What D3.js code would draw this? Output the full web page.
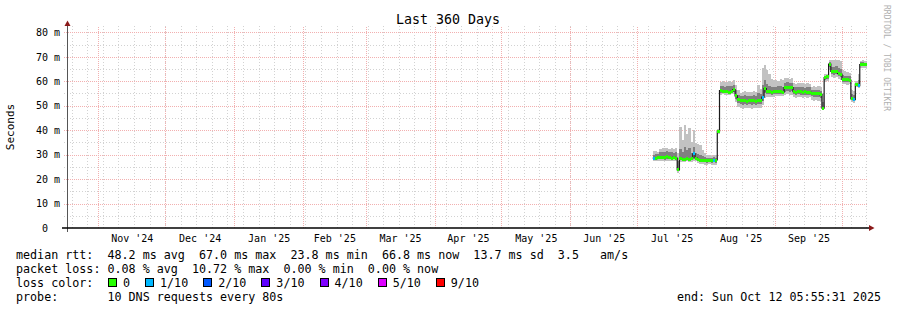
<!DOCTYPE html>
<html>
<head>
<meta charset="utf-8">
<script src="https://cdn.jsdelivr.net/npm/d3@7"></script>
<style>
  body { margin: 0; background: #fff; }
  svg text { font-family: "DejaVu Sans Mono", monospace; white-space: pre; }
</style>
</head>
<body>
<div id="chart"></div>
<script>
// graph window (360 days ending at the "end:" stamp)
var graphStart = new Date(Date.UTC(2024, 9, 17, 5, 55, 31));
var graphEnd = new Date(Date.UTC(2025, 9, 12, 5, 55, 31));
var firstSample = new Date(Date.UTC(2025, 6, 8)); // one sample per day from here

var monthLabels = ["Nov '24", "Dec '24", "Jan '25", "Feb '25", "Mar '25", "Apr '25",
  "May '25", "Jun '25", "Jul '25", "Aug '25", "Sep '25"];
var yTickValues = [0, 10, 20, 30, 40, 50, 60, 70, 80];
var yTickLabels = ["0  ", "10 m", "20 m", "30 m", "40 m", "50 m", "60 m", "70 m", "80 m"];

// daily values in ms
var medianMs = [28.6, 28.4, 28.8, 29.0, 28.7, 28.9, 29.1, 28.8, 28.5, 28.9, 28.6,
  23.8,
  28.5, 28.2, 28.0, 28.3, 28.1, 28.4, 30.3, 28.6,
  27.9, 27.8, 27.7, 27.8, 27.7, 27.6, 27.8, 27.7, 27.8,
  39.4,
  56.2, 55.9, 55.7, 55.8, 55.6, 55.9, 56.6, 54.0, 52.5,
  52.2, 52.0, 52.1, 51.9, 52.0, 52.2, 52.1, 51.9, 52.0, 52.3,
  53.5, 57.0,
  55.9, 55.7, 55.6, 55.8, 55.7, 55.9, 55.8, 55.6,
  57.4, 57.5, 57.3, 57.4,
  55.8, 55.6, 55.7, 55.9, 55.6, 55.7, 55.5, 55.6,
  55.2, 55.0, 54.8, 55.1, 54.5,
  49.0, 61.5, 61.8, 67.0,
  64.0, 63.8, 63.9, 63.1, 62.9,
  60.8, 60.6, 60.7, 60.5,
  52.8, 52.5, 58.8, 58.2,
  66.8, 67.0, 66.9, 66.8];

var smokeMax = [31.3, 31.5, 31.2, 32.5, 32.8, 32.6, 32.7, 32.4, 32.8, 32.5, 32.6,
  30.5,
  41.5, 36.0, 42.0, 38.5, 41.0, 35.0, 40.0, 34.7,
  34.5, 33.8, 32.0, 30.5, 29.8, 30.0, 29.6, 29.9, 29.7,
  40.5,
  59.8, 60.2, 59.5, 59.9, 60.1, 59.6, 60.5, 58.5, 56.5,
  55.4, 55.7, 56.2, 55.5, 55.8, 55.6, 56.0, 55.7, 58.5, 57.0,
  65.5, 66.8,
  64.5, 63.0, 61.0, 60.5, 60.5, 60.2, 60.8, 60.4,
  61.2, 61.5, 61.0, 61.3,
  59.2, 59.0, 59.4, 59.1, 59.3, 58.9, 59.2, 59.0,
  57.8, 58.0, 57.6, 57.9, 57.5,
  55.0, 62.8, 63.0, 68.5,
  68.7, 68.5, 68.8, 68.6, 68.4,
  64.5, 64.0, 63.8, 63.5,
  56.4, 56.0, 60.0, 63.0,
  68.4, 68.5, 68.3, 68.2];

var smokeHigh = [30.0, 30.2, 30.1, 31.0, 31.2, 31.0, 31.3, 30.9, 31.1, 30.8, 31.0,
  27.5,
  32.5, 31.0, 33.0, 31.8, 32.6, 30.8, 33.0, 30.5,
  30.2, 29.8, 29.5, 28.9, 28.8, 28.7, 28.8, 28.9, 28.8,
  39.9,
  58.0, 58.2, 57.8, 58.1, 58.0, 57.9, 58.6, 56.5, 54.2,
  53.9, 54.0, 54.2, 53.8, 54.1, 54.0, 54.3, 53.9, 55.0, 54.6,
  58.5, 60.5,
  59.0, 58.2, 57.8, 57.6, 57.8, 57.9, 58.0, 57.7,
  59.3, 59.5, 59.2, 59.4,
  57.6, 57.5, 57.8, 57.6, 57.7, 57.4, 57.5, 57.6,
  56.6, 56.5, 56.3, 56.6, 56.0,
  51.5, 62.2, 62.5, 67.8,
  66.0, 65.8, 66.2, 65.5, 65.0,
  62.6, 62.3, 62.2, 62.0,
  54.6, 54.2, 59.4, 60.6,
  67.7, 67.8, 67.6, 67.5];

var smokeLow = [28.0, 27.9, 28.1, 28.2, 28.1, 28.0, 28.3, 28.1, 27.9, 28.2, 28.0,
  23.2,
  27.8, 27.6, 27.5, 27.7, 27.6, 27.8, 28.8, 27.9,
  27.2, 27.0, 26.9, 26.8, 26.7, 26.8, 26.7, 26.8, 26.7,
  38.8,
  55.2, 55.0, 55.0, 55.1, 54.9, 55.1, 55.6, 52.6, 51.0,
  50.6, 50.5, 50.7, 50.4, 50.6, 50.5, 50.7, 50.4, 50.6, 50.8,
  52.0, 55.0,
  54.6, 54.6, 54.5, 54.6, 54.8, 54.8, 54.9, 54.7,
  55.8, 56.0, 55.7, 55.9,
  54.6, 54.4, 54.6, 54.5, 54.3, 54.5, 54.4, 54.5,
  53.8, 53.5, 53.5, 53.7, 53.2,
  48.8, 60.6, 61.0, 65.8,
  63.0, 62.7, 62.9, 62.1, 61.8,
  59.7, 59.8, 59.6, 59.5,
  52.2, 51.9, 58.1, 57.7,
  66.1, 66.3, 66.2, 66.1];

var smokeMin = [27.3, 27.2, 27.4, 27.3, 27.5, 27.2, 27.3, 27.4, 27.2, 27.3, 27.4,
  22.4,
  27.0, 27.1, 26.9, 27.2, 27.0, 27.1, 27.5, 27.2,
  26.5, 26.3, 26.0, 25.9, 25.8, 26.0, 25.8, 25.9, 25.8,
  38.3,
  54.4, 54.6, 54.3, 54.5, 54.4, 54.6, 54.8, 51.5, 49.5,
  48.9, 48.8, 49.1, 48.9, 49.0, 48.8, 49.1, 49.0, 48.9, 49.2,
  50.5, 53.2,
  53.5, 53.6, 53.4, 53.5, 53.9, 53.8, 54.0, 53.9,
  54.4, 54.6, 54.3, 54.5,
  53.4, 53.3, 53.5, 53.4, 53.2, 53.4, 53.3, 53.4,
  52.3, 52.0, 52.2, 52.1, 51.8,
  48.5, 59.8, 60.2, 64.5,
  61.9, 61.5, 61.8, 61.0, 60.5,
  58.8, 59.0, 58.5, 58.7,
  51.6, 51.3, 57.5, 57.2,
  65.4, 65.6, 65.5, 65.4];

// lost pings out of 10, per day
var lossTenths = [1, 0, 0, 0, 0, 0, 0, 0, 0, 0, 0,
  0,
  0, 0, 0, 0, 0, 0, 1, 0,
  0, 0, 0, 0, 0, 0, 0, 1, 0,
  0,
  0, 0, 0, 0, 0, 0, 0, 0, 0,
  0, 0, 0, 0, 0, 0, 0, 0, 0, 0,
  1, 0,
  0, 0, 0, 0, 0, 0, 0, 0,
  0, 0, 0, 0,
  0, 0, 0, 0, 0, 0, 0, 0,
  0, 0, 0, 0, 0,
  0, 0, 0, 0,
  0, 0, 0, 0, 0,
  0, 0, 0, 0,
  0, 1, 0, 1,
  0, 0, 0, 0];

var lossLabels = ["0", "1/10", "2/10", "3/10", "4/10", "5/10", "9/10"];
var lossColors = ["#26ff00", "#00b8ff", "#0059ff", "#5e00ff", "#7e00ff", "#dd00ff", "#ff0000"];

var legendRtt = "median rtt:  48.2 ms avg  67.0 ms max  23.8 ms min  66.8 ms now  13.7 ms sd  3.5   am/s";
var legendLoss = "packet loss: 0.08 % avg  10.72 % max  0.00 % min  0.00 % now";
var legendProbe = "probe:       10 DNS requests every 80s";
var legendEnd = "end: Sun Oct 12 05:55:31 2025";

var W = 897, H = 310;
var svg = d3.select('#chart').append('svg')
  .attr('width', W)
  .attr('height', H);

var x = d3.scaleUtc().domain([graphStart, graphEnd]).range([65.5, 867]);
var y = d3.scaleLinear().domain([0, 82.6]).range([228, 26]);

// samples; one extra point so the last step reaches the end of the graph
var samples = medianMs.map(function (m, i) {
  return {
    t: d3.utcDay.offset(firstSample, i), med: m, max: smokeMax[i], hi: smokeHigh[i],
    lo: smokeLow[i], min: smokeMin[i], loss: lossTenths[i]
  };
});
var last = samples[samples.length - 1];
var stepped = samples.concat([Object.assign({}, last, { t: graphEnd })]);

// grid
var grid = svg.append('g').attr('shape-rendering', 'crispEdges');
var x0 = x.range()[0] - 2, x1 = x.range()[1];

d3.range(5, 80, 10).forEach(function (v) {
  grid.append('line')
    .attr('x1', x0).attr('x2', x1)
    .attr('y1', Math.round(y(v)) + 0.5).attr('y2', Math.round(y(v)) + 0.5)
    .attr('stroke', '#d2d2d2').attr('stroke-dasharray', '1,2');
});
d3.utcSunday.range(graphStart, graphEnd).forEach(function (d) {
  grid.append('line')
    .attr('x1', Math.round(x(d)) + 0.5).attr('x2', Math.round(x(d)) + 0.5)
    .attr('y1', y.range()[0]).attr('y2', y.range()[1])
    .attr('stroke', '#d2d2d2').attr('stroke-dasharray', '1,2');
});
yTickValues.slice(1).forEach(function (v) {
  grid.append('line')
    .attr('x1', x0).attr('x2', x1)
    .attr('y1', Math.round(y(v)) + 0.5).attr('y2', Math.round(y(v)) + 0.5)
    .attr('stroke', '#f2b0b0').attr('stroke-dasharray', '1,1');
});
var months = d3.utcMonth.range(d3.utcMonth.ceil(graphStart), graphEnd);
months.forEach(function (d) {
  grid.append('line')
    .attr('x1', Math.round(x(d)) + 0.5).attr('x2', Math.round(x(d)) + 0.5)
    .attr('y1', y.range()[0]).attr('y2', y.range()[1])
    .attr('stroke', '#f2b0b0').attr('stroke-dasharray', '1,1');
});

// smoke
var band = function (lo, hi) {
  return d3.area()
    .curve(d3.curveStepAfter)
    .x(function (d) { return x(d.t); })
    .y0(function (d) { return y(d[lo]); })
    .y1(function (d) { return y(d[hi]); });
};
svg.append('path').datum(stepped)
  .attr('d', band('min', 'max'))
  .attr('fill', '#c2c2c2')
  .attr('shape-rendering', 'crispEdges');
svg.append('path').datum(stepped)
  .attr('d', band('lo', 'hi'))
  .attr('fill', '#808080')
  .attr('shape-rendering', 'crispEdges');

// median
svg.append('path').datum(stepped)
  .attr('d', d3.line().curve(d3.curveStepAfter)
    .x(function (d) { return x(d.t); })
    .y(function (d) { return y(d.med); }))
  .attr('fill', 'none')
  .attr('stroke', '#1a1a1a')
  .attr('stroke-width', 1.2);

svg.append('g').selectAll('rect')
  .data(samples)
  .join('rect')
  .attr('x', function (d) { return x(d.t); })
  .attr('width', function (d, i) { return x(stepped[i + 1].t) - x(d.t); })
  .attr('y', function (d) { return y(d.med) - 1.5; })
  .attr('height', 3)
  .attr('fill', function (d) { return lossColors[Math.min(d.loss, 6)]; })
  .attr('shape-rendering', 'crispEdges');

// axes
var yAxis = svg.append('g')
  .attr('transform', 'translate(67,0)')
  .call(d3.axisLeft(y).tickValues(yTickValues)
    .tickFormat(function (d, i) { return yTickLabels[i]; })
    .tickSize(0).tickPadding(7));
yAxis.select('.domain').remove();
yAxis.selectAll('text')
  .attr('font-family', '"DejaVu Sans Mono", monospace')
  .attr('font-size', '10px')
  .attr('fill', '#000');

var monthMids = months.slice(0, monthLabels.length).map(function (d) {
  return new Date((d.getTime() + d3.utcMonth.offset(d, 1).getTime()) / 2);
});
var xAxis = svg.append('g')
  .attr('transform', 'translate(0,228)')
  .call(d3.axisBottom(x).tickValues(monthMids)
    .tickFormat(function (d, i) { return monthLabels[i]; })
    .tickSize(0).tickPadding(7));
xAxis.select('.domain').remove();
xAxis.selectAll('text')
  .attr('font-family', '"DejaVu Sans Mono", monospace')
  .attr('font-size', '10px')
  .attr('fill', '#000');

svg.append('line')
  .attr('x1', 67.5).attr('x2', 67.5).attr('y1', 232).attr('y2', 25)
  .attr('stroke', '#555');
svg.append('line')
  .attr('x1', 62).attr('x2', 870).attr('y1', 228).attr('y2', 228)
  .attr('stroke', '#000').attr('stroke-width', 1.6);
svg.append('path')
  .attr('d', 'M64.5,26 L67.5,20.5 L70.5,26 Z')
  .attr('fill', '#8b1a1a');
svg.append('path')
  .attr('d', 'M869,225 L874.5,228 L869,231 Z')
  .attr('fill', '#8b1a1a');

// titles
svg.append('text')
  .attr('x', 448).attr('y', 24)
  .attr('text-anchor', 'middle')
  .attr('font-size', '13.3px')
  .text('Last 360 Days');

svg.append('text')
  .attr('transform', 'translate(14,127) rotate(-90)')
  .attr('text-anchor', 'middle')
  .attr('font-size', '11px')
  .text('Seconds');

svg.append('text')
  .attr('transform', 'translate(884,5) rotate(90)')
  .attr('font-size', '8px')
  .attr('fill', '#b0b0b0')
  .text('RRDTOOL / TOBI OETIKER');

// legend
var legend = svg.append('g').attr('font-size', '11.7px');
legend.append('text').attr('x', 16).attr('y', 258.5).text(legendRtt);
legend.append('text').attr('x', 16).attr('y', 272.5).text(legendLoss);
legend.append('text').attr('x', 16).attr('y', 286.5).text('loss color:');
legend.append('text').attr('x', 16).attr('y', 300.5).text(legendProbe);
legend.append('text').attr('x', 881).attr('y', 300.5)
  .attr('text-anchor', 'end').text(legendEnd);

var lx = 108.5;
lossLabels.forEach(function (lab, i) {
  legend.append('rect')
    .attr('x', lx).attr('y', 278.5)
    .attr('width', 8).attr('height', 8)
    .attr('fill', lossColors[i])
    .attr('stroke', '#000')
    .attr('shape-rendering', 'crispEdges');
  var t = legend.append('text')
    .attr('x', lx + 14.5).attr('y', 286.5)
    .text(lab);
  lx = lx + 14.5 + t.node().getComputedTextLength() + 15.5;
});
</script>
</body>
</html>
